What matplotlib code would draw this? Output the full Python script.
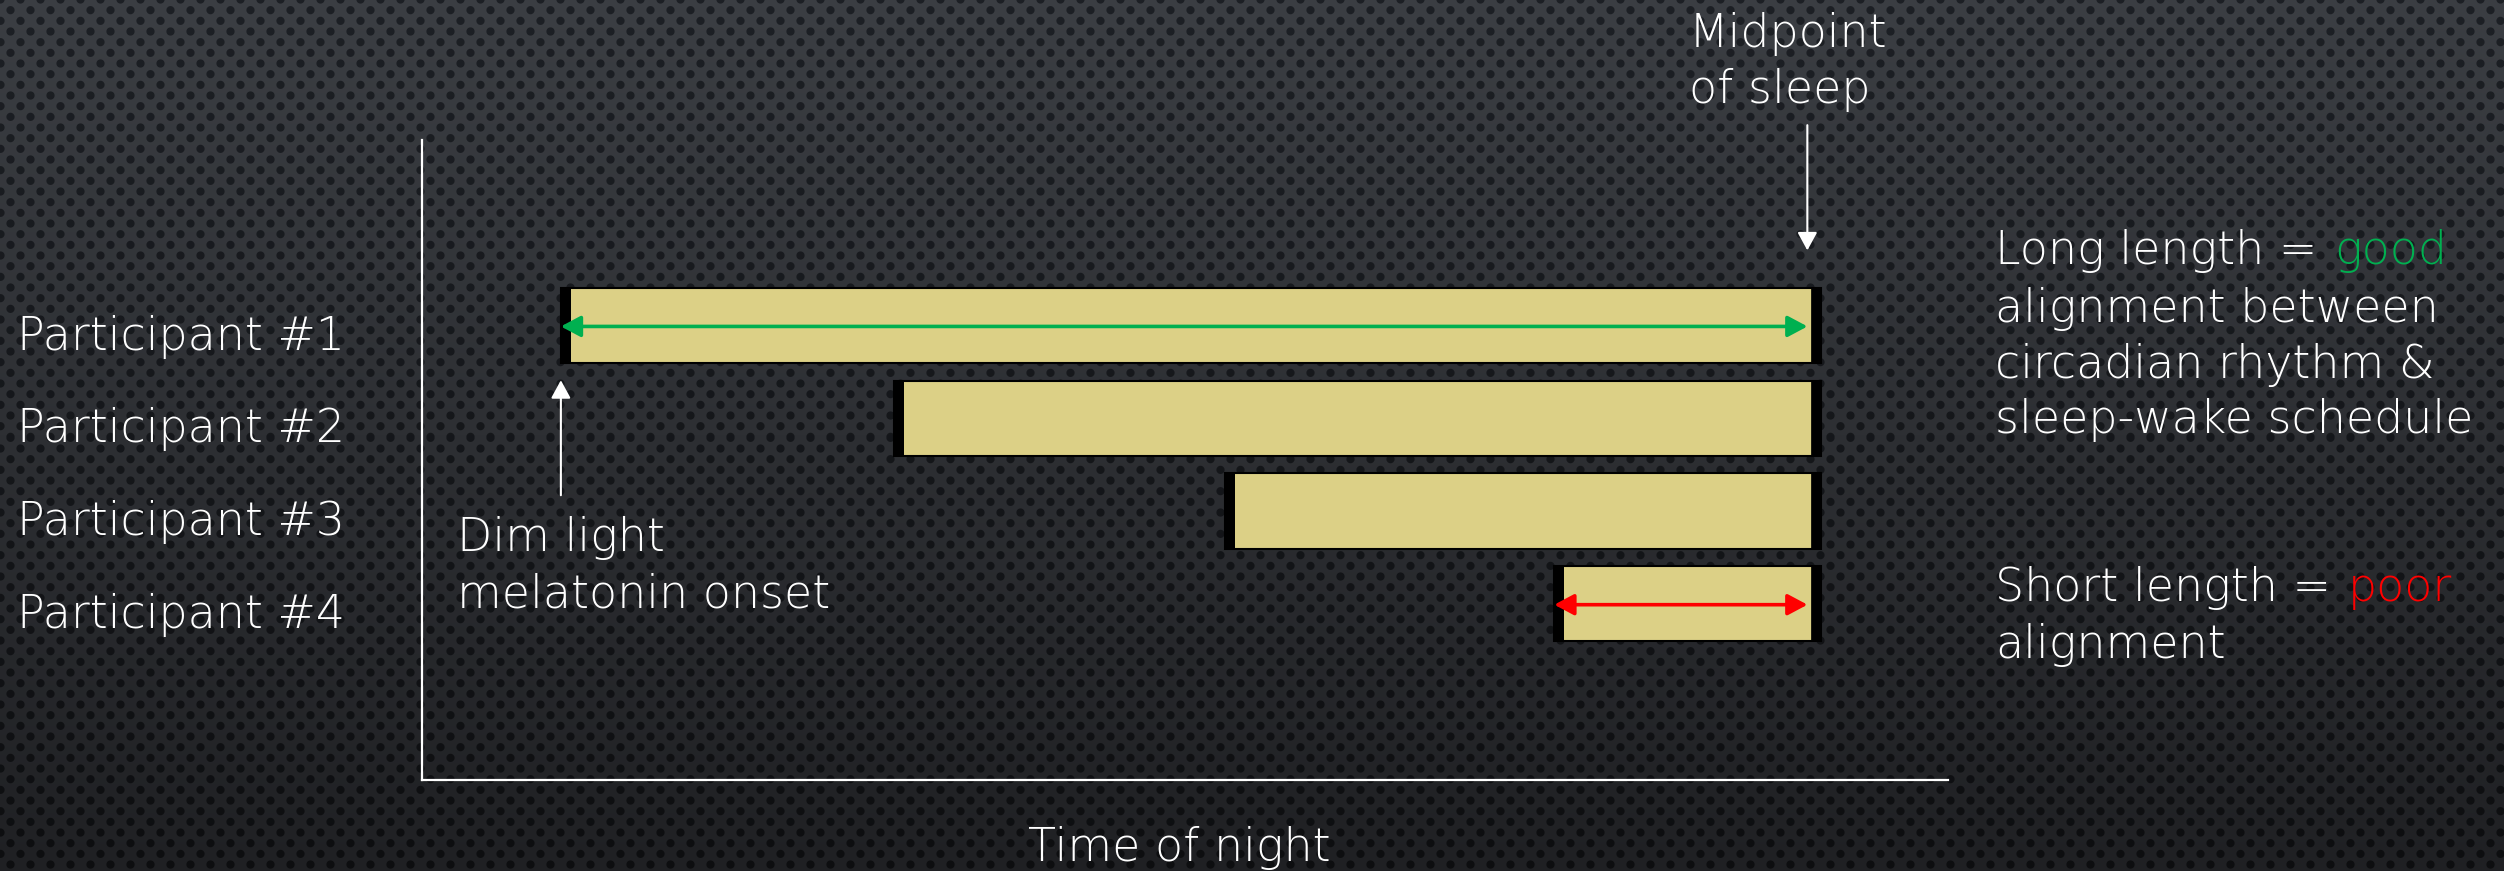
import numpy as np
import matplotlib
matplotlib.use("Agg")
import matplotlib.pyplot as plt
from matplotlib import transforms

W, H = 2504, 871

participants = ["Participant #1", "Participant #2", "Participant #3", "Participant #4"]
ypos = [4, 3, 2, 1]
# time of night, arbitrary units along the x axis
dlmo = [0.91, 3.09, 5.26, 7.42]          # dim light melatonin onset
midpoint = [9.17, 9.17, 9.17, 9.17]      # midpoint of sleep

plt.rcParams['font.family'] = ['DejaVu Sans']
FS = 33
FW = 'light'

fig = plt.figure(figsize=(W / 100, H / 100), dpi=100)

# dotted dark background
yy, xx = np.mgrid[0:H, 0:W].astype(float)
row = np.floor(yy / 10.667 + 0.5)
cy = row * 10.667
off = (row % 2) * 10
cx = np.round((xx - off) / 20) * 20 + off
d = np.hypot(xx - cx, yy - cy)
dot = np.clip(4.6 - d, 0, 1)
t = (yy / H)[..., None]
base = np.array([59, 62, 67]) * (1 - t) + np.array([31, 32, 35]) * t
dark = np.array([29, 32, 37]) * (1 - t) + np.array([13, 14, 16]) * t
img = base * (1 - dot[..., None]) + dark * dot[..., None]
bg = fig.add_axes([0, 0, 1, 1])
bg.imshow(img.astype(np.uint8), aspect='auto', interpolation='nearest')
bg.axis('off')

ax = fig.add_axes([422 / W, (H - 780) / H, (1948 - 422) / W, (780 - 140) / H])
ax.patch.set_alpha(0)
ax.set_xlim(0, 10)
ax.set_ylim(-0.9, 6.0)
for s in ['top', 'right']:
    ax.spines[s].set_visible(False)
for s in ['left', 'bottom']:
    ax.spines[s].set_color('white')
    ax.spines[s].set_linewidth(1.6)
ax.set_xticks([])
ax.set_yticks([])

widths = [m - o for m, o in zip(midpoint, dlmo)]
ax.barh(ypos, widths, left=dlmo, height=0.81, color='#dcd086',
        edgecolor='black', linewidth=1.5, zorder=2)
# thick black ends of each bar
tl = transforms.offset_copy(ax.transData, fig=fig, x=5, y=0, units='dots')
tr = transforms.offset_copy(ax.transData, fig=fig, x=-5, y=0, units='dots')
for o, m, y in zip(dlmo, midpoint, ypos):
    ax.plot([o, o], [y - 0.405, y + 0.405], color='black', lw=7.2,
            solid_capstyle='butt', transform=tl, zorder=3)
    ax.plot([m, m], [y - 0.405, y + 0.405], color='black', lw=7.0,
            solid_capstyle='butt', transform=tr, zorder=3)

# double arrows for the longest and shortest alignment
for i, col in [(0, '#00b050'), (3, '#ff0000')]:
    ax.annotate('', xy=(midpoint[i], ypos[i] - 0.01), xytext=(dlmo[i], ypos[i] - 0.01),
                arrowprops=dict(arrowstyle='<|-|>,head_length=0.6,head_width=0.32',
                                mutation_scale=20, color=col, lw=2.6,
                                shrinkA=0, shrinkB=10), zorder=4)

# pointer arrows
tm = transforms.offset_copy(ax.transData, fig=fig, x=-14, y=0, units='dots')
ax.annotate('', xy=(midpoint[0], 4.81), xycoords=tm, xytext=(midpoint[0], 6.16), textcoords=tm,
            arrowprops=dict(arrowstyle='-|>,head_length=0.55,head_width=0.3',
                            mutation_scale=20, color='white', lw=1.5, shrinkA=0, shrinkB=0),
            annotation_clip=False)
ax.annotate('', xy=(dlmo[0], 3.41), xytext=(dlmo[0], 2.17),
            arrowprops=dict(arrowstyle='-|>,head_length=0.55,head_width=0.3',
                            mutation_scale=20, color='white', lw=1.5, shrinkA=0, shrinkB=0),
            annotation_clip=False)


def ftext(x, y, s, color='white', ha='left'):
    return fig.text(x / W, 1 - y / H, s, color=color, fontsize=FS, fontweight=FW,
                    va='baseline', ha=ha)


# participant labels, baseline a little below each bar centre
lab_tr = transforms.offset_copy(transforms.blended_transform_factory(fig.transFigure, ax.transData),
                                fig=fig, x=0, y=-24, units='dots')
for name, y in zip(participants, ypos):
    fig.text(17 / W, y, name, transform=lab_tr, color='white', fontsize=FS,
             fontweight=FW, va='baseline', ha='left')

ftext(1689, 47, "Midpoint")
ftext(1689, 103, "of sleep")
ftext(457, 551, "Dim light")
ftext(457, 608, "melatonin onset")

t1 = ftext(1995, 264, "Long length =")
ftext(1995, 322, "alignment between")
ftext(1995, 378, "circadian rhythm &")
ftext(1995, 433, "sleep-wake schedule")
t2 = ftext(1995, 601, "Short length =")
ftext(1995, 658, "alignment")

ftext(1179, 861, "Time of night", ha='center')

# coloured words right after the white text
fig.canvas.draw()
r = fig.canvas.get_renderer()
for tt, word, col, yb in [(t1, "good", '#00b050', 264), (t2, "poor", '#ff0000', 601)]:
    bb = tt.get_window_extent(r)
    ftext(bb.x1 + 17, yb, word, color=col)

fig.savefig('out.png', dpi=100)
